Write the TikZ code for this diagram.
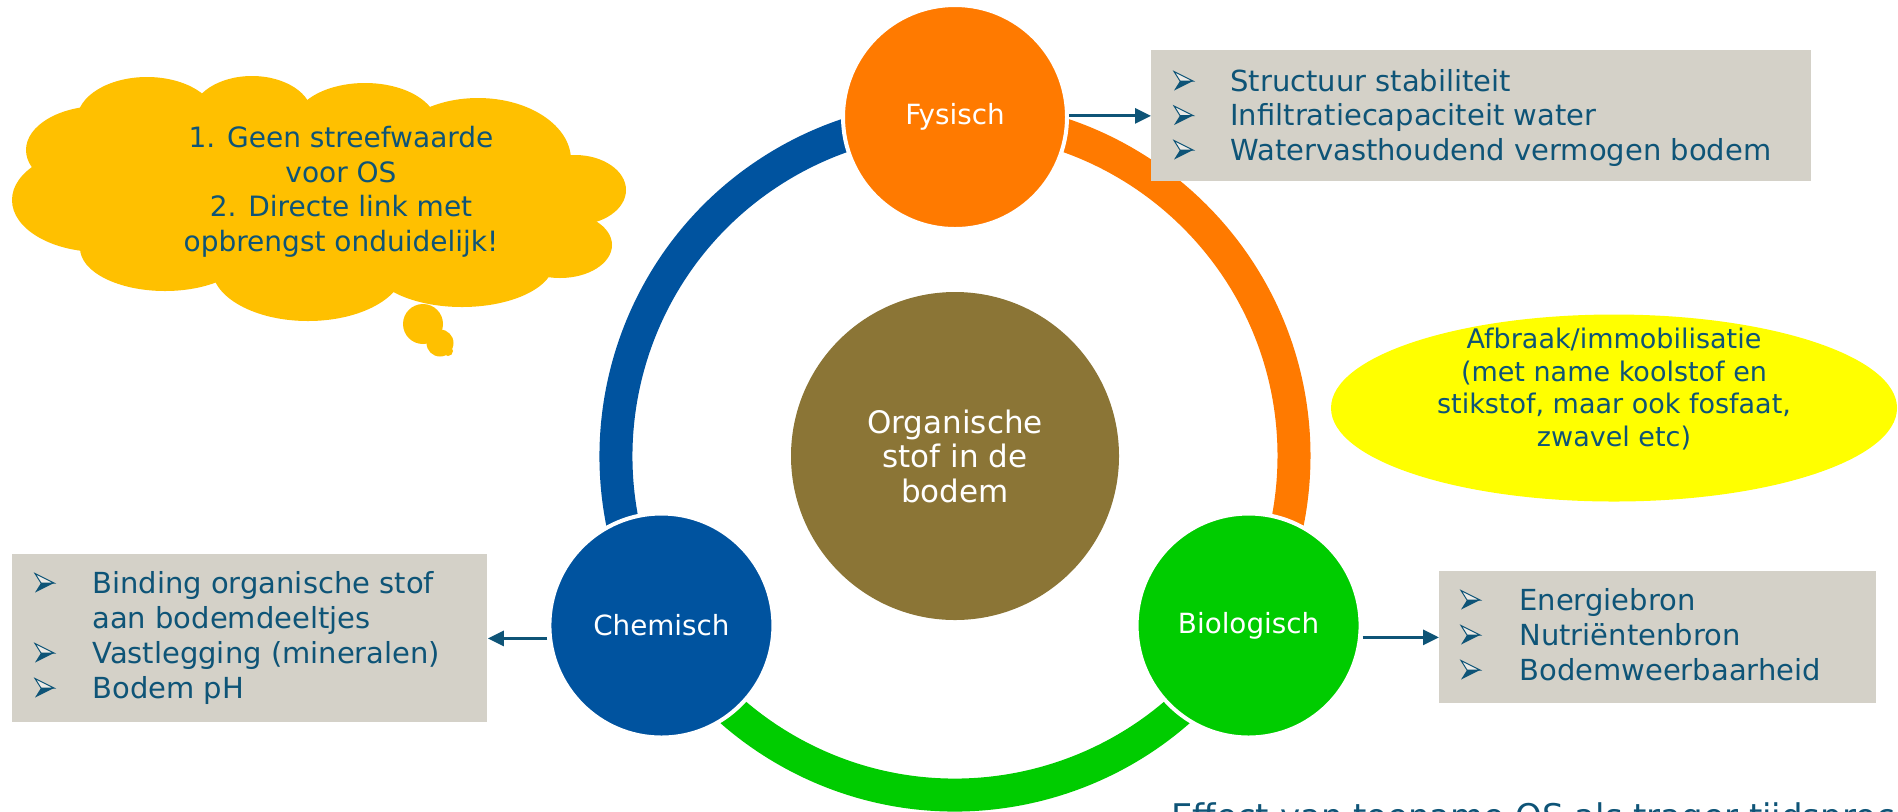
\documentclass[tikz,border=0pt]{standalone}
\usepackage{fontspec}
\setmainfont{DejaVu Sans}
\usetikzlibrary{arrows.meta,shapes.geometric}

\definecolor{ink}{HTML}{0E5477}
\definecolor{boxgrey}{HTML}{D4D1C8}
\definecolor{cloudgold}{HTML}{FFC000}
\definecolor{blobyellow}{HTML}{FFFF00}
\definecolor{fysorange}{HTML}{FF7A00}
\definecolor{chemblue}{HTML}{00539F}
\definecolor{biogreen}{HTML}{00CC00}
\definecolor{soilbrown}{HTML}{8B7536}

\begin{document}
\begin{tikzpicture}[x=0.5pt,y=-0.5pt,
  ringarc/.style={line width=16.5pt},
  facet/.style={circle, draw=white, line width=2pt, minimum size=112pt, inner sep=0pt,
    text=white, font=\fontsize{13.9pt}{16pt}\selectfont},
  infobox/.style={fill=boxgrey, draw=none, inner sep=0pt, anchor=north west},
  itemtext/.style={anchor=base west, inner sep=0pt, text=ink, font=\fontsize{14.5pt}{17.5pt}\selectfont},
  conn/.style={draw=ink, line width=1.5pt, -{Triangle[length=8pt,width=7.5pt]}},
  puff/.style={fill=cloudgold, draw=none},
  note/.style={text=ink, align=center, inner sep=0pt},
  % three-dimensional arrowhead bullet, origin at its left middle
  pics/dingbat/.style={code={
    \filldraw[fill=boxgrey!45!white, draw=ink, line width=0.5pt, line join=miter]
      (0,-9.5) -- (19,0) -- (6,0) -- cycle;
    \fill[ink] (6,0) -- (19,0) -- (0,9.5) -- cycle;
  }},
]
\useasboundingbox (0,0) rectangle (1898,811);
\clip (0,0) rectangle (1898,811);

% ring centre
\coordinate (ctr) at (955,456);

% ring segments (drawn first, the circles cover their ends)
\draw[ringarc, chemblue]  ([shift={(150:339)}]ctr) arc[start angle=150, end angle=270, radius=339];
\draw[ringarc, fysorange] ([shift={(270:339)}]ctr) arc[start angle=270, end angle=390, radius=339];
\draw[ringarc, biogreen]  ([shift={(30:339)}]ctr)  arc[start angle=30,  end angle=150, radius=339];

% centre
\node[circle, fill=soilbrown, minimum size=164pt, inner sep=0pt, align=center,
  text=white, font=\fontsize{15.5pt}{17.25pt}\selectfont] (core) at (ctr)
  {Organische\\stof in de\\bodem};

% facets
\node[facet, fill=fysorange] (fys)  at ([shift={(270:339)}]ctr) {Fysisch};
\node[facet, fill=chemblue]  (chem) at ([shift={(150:339)}]ctr) {Chemisch};
\node[facet, fill=biogreen]  (bio)  at ([shift={(30:339)}]ctr)  {Biologisch};

% info boxes
\node[infobox, minimum width=330pt, minimum height=65.5pt] (fysbox)  at (1151,50)  {};
\node[infobox, minimum width=237.5pt, minimum height=84pt] (chembox) at (12,554)   {};
\node[infobox, minimum width=218.5pt, minimum height=66pt] (biobox)  at (1439,571) {};

% physical properties
\pic at (1174,81)   {dingbat};
\pic at (1174,115.5) {dingbat};
\pic at (1174,150)  {dingbat};
\node[itemtext] (ft1) at (1230,91)    {Structuur stabiliteit};
\node[itemtext] (ft2) at (1230,125.5) {Infiltratiecapaciteit water};
\node[itemtext] (ft3) at (1230,160)   {Watervasthoudend vermogen bodem};

% chemical properties
\pic at (35,583) {dingbat};
\pic at (35,653) {dingbat};
\pic at (35,688) {dingbat};
\node[itemtext] (ct1) at (92,593)  {Binding organische stof};
\node[itemtext] (ct1b) at (92,628) {aan bodemdeeltjes};
\node[itemtext] (ct2) at (92,663)  {Vastlegging (mineralen)};
\node[itemtext] (ct3) at (92,698)  {Bodem pH};

% biological properties
\pic at (1461,600) {dingbat};
\pic at (1461,635) {dingbat};
\pic at (1461,670) {dingbat};
\node[itemtext] (bt1) at (1519,610) {Energiebron};
\node[itemtext] (bt2) at (1519,645) {Nutriëntenbron};
\node[itemtext] (bt3) at (1519,680) {Bodemweerbaarheid};

% connectors
\draw[conn] (fysbox.west -| fys.east) -- (fysbox.west);
\draw[conn] (chembox.east -| chem.west) -- (chembox.east);
\draw[conn] (biobox.west -| bio.east) -- (biobox.west);

% thought cloud
\fill[puff] (100,150) ellipse[x radius=74, y radius=44];
\fill[puff] (147,120) ellipse[x radius=70, y radius=43];
\fill[puff] (252,115) ellipse[x radius=60, y radius=39];
\fill[puff] (365,125) ellipse[x radius=72, y radius=42];
\fill[puff] (478,160) ellipse[x radius=93, y radius=62];
\fill[puff] (575,190) ellipse[x radius=51, y radius=35];
\fill[puff] (560,245) ellipse[x radius=52, y radius=33];
\fill[puff] (462,262) ellipse[x radius=92, y radius=45];
\fill[puff] (308,268) ellipse[x radius=96, y radius=53];
\fill[puff] (165,248) ellipse[x radius=85, y radius=43];
\fill[puff] (100,200) ellipse[x radius=88, y radius=52];
\fill[puff] (320,195) ellipse[x radius=250, y radius=95];
\fill[puff] (423,324) circle[radius=20];
\fill[puff] (440,343) circle[radius=13.5];
\fill[puff] (448,351) circle[radius=5];
\node[note, font=\fontsize{14pt}{17.25pt}\selectfont] (cloudtext) at (341,192)
  {1. Geen streefwaarde\\voor OS\\2. Directe link met\\opbrengst onduidelijk!};

% decomposition note
\node[ellipse, fill=blobyellow, draw=none, minimum width=283pt, minimum height=93.5pt, inner sep=0pt] (blob) at (1614,408) {};
\node[note, font=\fontsize{13.5pt}{16.25pt}\selectfont] (blobtext) at (1614,389)
  {Afbraak/immobilisatie\\(met name koolstof en\\stikstof, maar ook fosfaat,\\zwavel etc)};

% caption running off the bottom edge
\node[anchor=base west, inner sep=0pt, text=ink, font=\fontsize{17pt}{20pt}\selectfont] (caption) at (1171,828)
  {Effect van toename OS als trager tijdsproces};
\end{tikzpicture}
\end{document}
